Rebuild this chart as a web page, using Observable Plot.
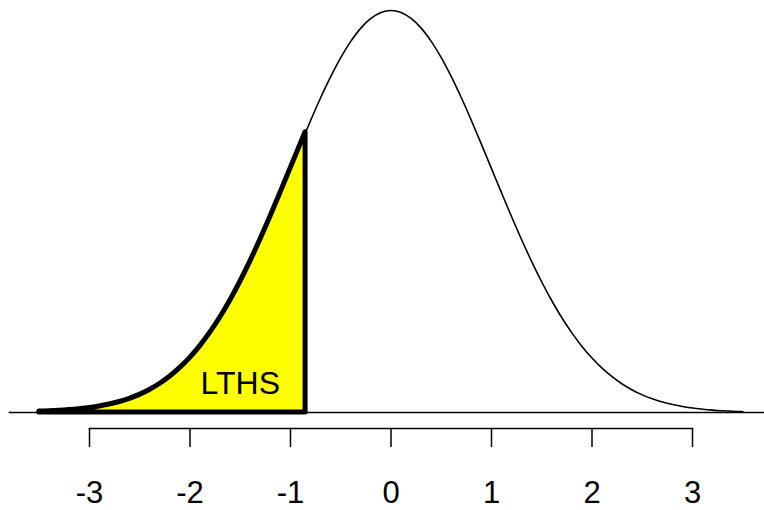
<!DOCTYPE html>
<html>
<head>
<meta charset="utf-8">
<script src="https://cdn.jsdelivr.net/npm/d3@7"></script>
<script src="https://cdn.jsdelivr.net/npm/@observablehq/plot@0.6"></script>
<style>
  html, body { margin: 0; padding: 0; background: #fff; }
  svg { display: block; }
</style>
</head>
<body>
<div id="chart"></div>
<script>
// z values along the curve
const zValues = [
  -3.5, -3.4, -3.3, -3.2, -3.1, -3.0, -2.9, -2.8, -2.7, -2.6,
  -2.5, -2.4, -2.3, -2.2, -2.1, -2.0, -1.9, -1.8, -1.7, -1.6,
  -1.5, -1.4, -1.3, -1.2, -1.1, -1.0, -0.9, -0.8, -0.7, -0.6,
  -0.5, -0.4, -0.3, -0.2, -0.1, 0.0, 0.1, 0.2, 0.3, 0.4,
  0.5, 0.6, 0.7, 0.8, 0.9, 1.0, 1.1, 1.2, 1.3, 1.4,
  1.5, 1.6, 1.7, 1.8, 1.9, 2.0, 2.1, 2.2, 2.3, 2.4,
  2.5, 2.6, 2.7, 2.8, 2.9, 3.0, 3.1, 3.2, 3.3, 3.4, 3.5
];
// curve heights
const densityValues = [
  0.0009, 0.0012, 0.0017, 0.0024, 0.0033, 0.0044, 0.0060, 0.0079, 0.0104, 0.0136,
  0.0175, 0.0224, 0.0283, 0.0355, 0.0440, 0.0540, 0.0656, 0.0790, 0.0940, 0.1109,
  0.1295, 0.1497, 0.1714, 0.1942, 0.2179, 0.2420, 0.2661, 0.2897, 0.3123, 0.3332,
  0.3521, 0.3683, 0.3814, 0.3910, 0.3970, 0.3989, 0.3970, 0.3910, 0.3814, 0.3683,
  0.3521, 0.3332, 0.3123, 0.2897, 0.2661, 0.2420, 0.2179, 0.1942, 0.1714, 0.1497,
  0.1295, 0.1109, 0.0940, 0.0790, 0.0656, 0.0540, 0.0440, 0.0355, 0.0283, 0.0224,
  0.0175, 0.0136, 0.0104, 0.0079, 0.0060, 0.0044, 0.0033, 0.0024, 0.0017, 0.0012, 0.0009
];
// shaded lower tail ends at this cutoff
const cutoffZ = -0.85;
const cutoffDensity = 0.2780;
const tickLabels = [-3, -2, -1, 0, 1, 2, 3];
const areaLabel = "LTHS";
const labelZ = -1.5;
const labelDensity = 0.029;
const baselineFrom = -3.8;
const baselineTo = 4.0;

const curve = zValues.map((z, i) => ({z, d: densityValues[i]}));
const shade = curve.filter(p => p.z < cutoffZ).concat([{z: cutoffZ, d: cutoffDensity}]);

const chart = Plot.plot({
  width: 764,
  height: 510,
  marginLeft: 89,
  marginRight: 72,
  marginTop: 10,
  marginBottom: 82,
  style: {fontFamily: "'Liberation Sans', Arial, Helvetica, sans-serif", background: "#fff"},
  x: {domain: [-3, 3], axis: null},
  y: {domain: [0, 0.3989], range: [412, 10], axis: null},
  marks: [
    Plot.ruleY([0], {x1: baselineFrom, x2: baselineTo, stroke: "black", strokeWidth: 1.5}),
    Plot.areaY(shade, {x: "z", y: "d", fill: "#ffff00", stroke: "black", strokeWidth: 5, curve: "catmull-rom", strokeMiterlimit: 10}),
    Plot.line(curve, {x: "z", y: "d", stroke: "black", strokeWidth: 1.6, curve: "catmull-rom"}),
    Plot.text([areaLabel], {x: labelZ, y: labelDensity, text: d => d, fontSize: 32, fill: "black"}),
    Plot.frame({anchor: "bottom", stroke: "black", strokeWidth: 1.5}),
    Plot.axisX({ticks: tickLabels, tickFormat: d => String(d), label: null, tickSize: 19, tickPadding: 33, fontSize: 31, strokeWidth: 1.5, color: "black"})
  ]
});
document.getElementById("chart").appendChild(chart);
</script>
</body>
</html>
